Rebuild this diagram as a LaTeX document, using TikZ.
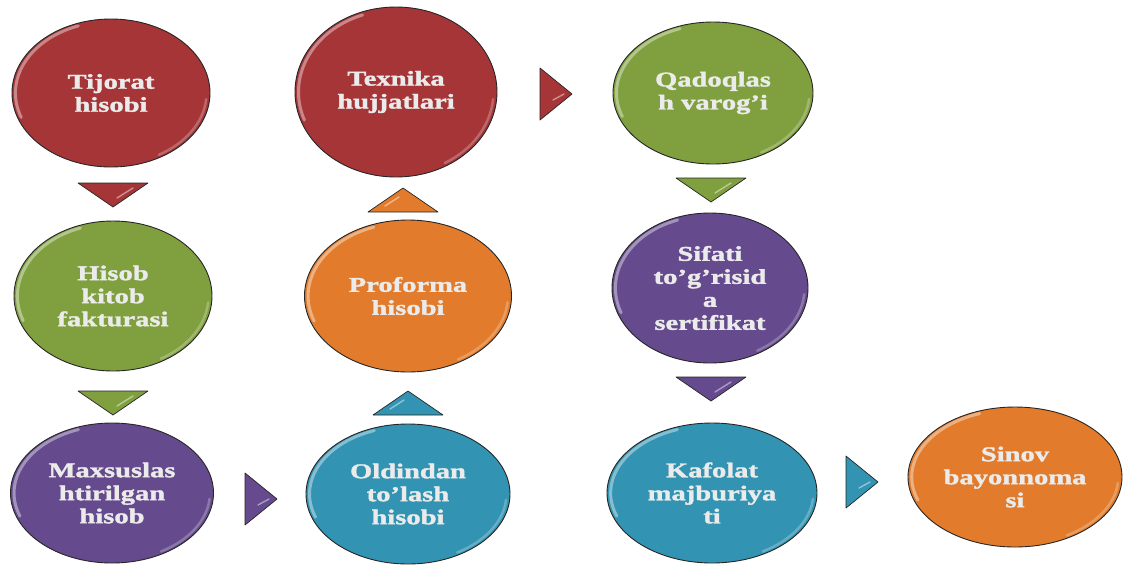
\documentclass[tikz,border=0pt]{standalone}
\usepackage{fontspec}
\newfontfamily\lbl[FakeStretch=1.36,FakeBold=1.6]{Liberation Serif}
\usetikzlibrary{shapes.geometric,calc}

\definecolor{cRed}{RGB}{166,53,55}
\definecolor{cGreen}{RGB}{128,160,63}
\definecolor{cPurple}{RGB}{101,75,141}
\definecolor{cTeal}{RGB}{50,148,178}
\definecolor{cOrange}{RGB}{226,124,44}

% colours used by the rim shading of the bubbles
\colorlet{rimin}{white}
\colorlet{rimout}{black}
\pgfdeclareradialshading[rimin,rimout]{rim}{\pgfpointorigin}{%
  color(0bp)=(rimin);color(43bp)=(rimin);color(50bp)=(rimout)}

\tikzset{
  bubblecol/.code={\colorlet{rimin}{#1}\colorlet{rimout}{#1!80!black}},
  bubble/.style={ellipse, draw=black!85, line width=0.9pt, inner sep=0pt,
    align=center, font=\lbl\bfseries\fontsize{21}{23}\selectfont,
    text=white!92!black, shading=rim, bubblecol=#1},
  tri/.style={draw=black!85, line width=0.7pt, fill=#1, line join=round},
  gloss/.style={white, line cap=round, opacity=0.4, line width=3pt},
  softgloss/.style={white, line cap=round, opacity=0.25, line width=2.5pt},
}

% \bubble{name}{x}{y}{width}{height}{colour}{text}
\newcommand\bubble[7]{%
  \node[bubble=#6, minimum width=#4pt, minimum height=#5pt] (#1) at (#2,#3) {#7};
  \draw[gloss] ({#2+0.965*(#4/2)*cos(160)},{#3+0.965*(#5/2)*sin(160)})
    arc[start angle=160, end angle=250, x radius={0.965*#4/2}, y radius={0.965*#5/2}];
  \draw[softgloss] ({#2+0.965*(#4/2)*cos(5)},{#3+0.965*(#5/2)*sin(5)})
    arc[start angle=5, end angle=60, x radius={0.965*#4/2}, y radius={0.965*#5/2}];
}
% arrow triangles: \tridown{name}{x}{y}{colour}
\newcommand\tridown[4]{%
  \coordinate (#1) at (#2,#3);
  \draw[tri=#4] ($(#1)+(-35,-12)$) -- ($(#1)+(35,-12)$) -- ($(#1)+(0,12)$) -- cycle;
  \draw[white, opacity=0.45, line width=1.4pt, line cap=round]
    ($(#1)+(4,3)$) -- ($(#1)+(20,-7)$);
}
\newcommand\triup[4]{%
  \coordinate (#1) at (#2,#3);
  \draw[tri=#4] ($(#1)+(-35,12)$) -- ($(#1)+(35,12)$) -- ($(#1)+(0,-12)$) -- cycle;
  \draw[white, opacity=0.45, line width=1.4pt, line cap=round]
    ($(#1)+(-4,-3)$) -- ($(#1)+(-18,6)$);
}
\newcommand\triright[4]{%
  \coordinate (#1) at (#2,#3);
  \draw[tri=#4] ($(#1)+(-16,-26)$) -- ($(#1)+(16,0)$) -- ($(#1)+(-16,26)$) -- cycle;
  \draw[white, opacity=0.45, line width=1.4pt, line cap=round]
    ($(#1)+(-3,6)$) -- ($(#1)+(8,0)$);
}

\begin{document}
\begin{tikzpicture}[x=1pt,y=-1pt]
\useasboundingbox (0,0) rectangle (1128,566);

% first column
\bubble{tijorat}{111}{93}{198}{148}{cRed}{Tijorat\\hisobi}
\tridown{t1}{113}{195}{cRed}
\bubble{hisob}{113}{296}{198}{150}{cGreen}{Hisob\\kitob\\fakturasi}
\tridown{t2}{113}{403}{cGreen}
\bubble{maxsus}{112}{493}{203}{140}{cPurple}{Maxsuslas\\htirilgan\\hisob}
\triright{t3}{261}{499}{cPurple}

% second column
\bubble{oldindan}{408}{494}{204}{140}{cTeal}{Oldindan\\to’lash\\hisobi}
\triup{t4}{408}{403}{cTeal}
\bubble{proforma}{408}{296}{207}{152}{cOrange}{Proforma\\hisobi}
\triup{t5}{403}{200}{cOrange}
\bubble{texnika}{396}{92}{202}{170}{cRed}{Texnika\\hujjatlari}
\triright{t6}{556}{94}{cRed}

% third column
\bubble{qadoq}{713}{93}{200}{142}{cGreen}{Qadoqlas\\h varog’i}
\tridown{t7}{711}{190}{cGreen}
\bubble{sifati}{710}{288}{196}{150}{cPurple}{Sifati\\to’g’risid\\a\\sertifikat}
\tridown{t8}{711}{389}{cPurple}
\bubble{kafolat}{712}{493}{210}{140}{cTeal}{Kafolat\\majburiya\\ti}
\triright{t9}{862}{482}{cTeal}

% last step
\bubble{sinov}{1015}{477}{214}{140}{cOrange}{Sinov\\bayonnoma\\si}
\end{tikzpicture}
\end{document}
